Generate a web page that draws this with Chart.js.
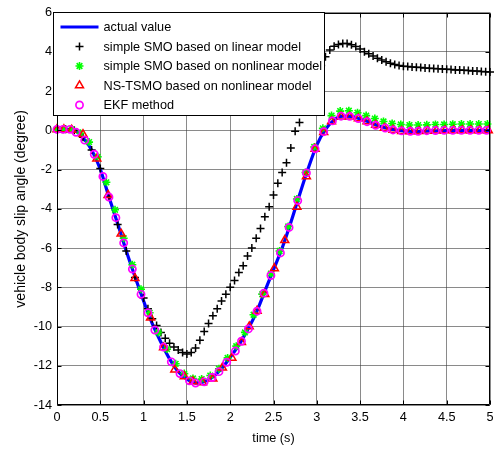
<!DOCTYPE html>
<html>
<head>
<meta charset="utf-8">
<script src="https://cdn.jsdelivr.net/npm/chart.js@4/dist/chart.umd.min.js"></script>
<style>
  html, body { margin: 0; padding: 0; background: #fff; }
  canvas { display: block; }
</style>
</head>
<body>
<canvas id="chart" width="499" height="457"></canvas>
<script>
// Axis ticks
const xTicks = [0, 0.5, 1, 1.5, 2, 2.5, 3, 3.5, 4, 4.5, 5];
const xTickLabels = ['0', '0.5', '1', '1.5', '2', '2.5', '3', '3.5', '4', '4.5', '5'];
const yTicks = [-14, -12, -10, -8, -6, -4, -2, 0, 2, 4, 6];
const yTickLabels = ['-14', '-12', '-10', '-8', '-6', '-4', '-2', '0', '2', '4', '6'];

const seriesNames = [
  'actual value',
  'simple SMO based on linear model',
  'simple SMO based on nonlinear model',
  'NS-TSMO based on nonlinear model',
  'EKF method'
];

// Actual slip angle (deg)
const actualT = [0, 0.1, 0.2, 0.3, 0.4, 0.5, 0.6, 0.7, 0.8, 0.9, 1.0, 1.1, 1.2, 1.3, 1.4, 1.5, 1.6, 1.7, 1.8, 1.9,
  2.0, 2.1, 2.2, 2.3, 2.4, 2.5, 2.6, 2.7, 2.8, 2.9, 3.0, 3.1, 3.2, 3.3, 3.4, 3.5, 3.6, 3.7, 3.8, 3.9,
  4.0, 4.1, 4.2, 4.3, 4.4, 4.5, 4.6, 4.7, 4.8, 4.9, 5.0];
const actualV = [0.05, 0.05, 0.0, -0.38, -1.0, -1.98, -3.4, -4.75, -6.15, -7.45, -8.7, -9.85, -10.8, -11.65, -12.3, -12.68, -12.88, -12.82, -12.57, -12.15,
  -11.57, -10.95, -10.18, -9.3, -8.2, -7.1, -6.0, -4.7, -3.3, -1.95, -0.75, 0.05, 0.53, 0.72, 0.71, 0.58, 0.44, 0.25, 0.12, 0.03,
  -0.03, -0.05, -0.05, -0.03, -0.02, -0.01, 0.0, 0.0, 0.0, 0.0, 0.0];

// Simple SMO, linear model
const smoLinT = [0, 0.1, 0.2, 0.3, 0.4, 0.5, 0.6, 0.7, 0.8, 0.9, 1.0,
  1.05, 1.1, 1.15, 1.2, 1.25, 1.3, 1.35, 1.4, 1.45, 1.5, 1.55, 1.6, 1.65, 1.7, 1.75, 1.8, 1.85, 1.9, 1.95,
  2.0, 2.05, 2.1, 2.15, 2.2, 2.25, 2.3, 2.35, 2.4, 2.45, 2.5, 2.55, 2.6, 2.65, 2.7, 2.75, 2.8, 2.85, 2.9, 2.95,
  3.0, 3.05, 3.1, 3.15, 3.2, 3.25, 3.3, 3.35, 3.4, 3.45, 3.5, 3.55, 3.6, 3.65, 3.7, 3.75, 3.8, 3.85, 3.9, 3.95,
  4.0, 4.05, 4.1, 4.15, 4.2, 4.25, 4.3, 4.35, 4.4, 4.45, 4.5, 4.55, 4.6, 4.65, 4.7, 4.75, 4.8, 4.85, 4.9, 4.95, 5.0];
const smoLinV = [0.05, 0.05, 0.0, -0.35, -1.0, -1.95, -3.4, -4.8, -6.15, -7.5, -8.55,
  -9.1, -9.6, -9.95, -10.3, -10.6, -10.85, -11.05, -11.2, -11.32, -11.4, -11.32, -11.1, -10.7, -10.25, -9.85, -9.45, -9.1, -8.7, -8.35,
  -8.0, -7.65, -7.25, -6.9, -6.4, -6.0, -5.5, -5.0, -4.4, -3.9, -3.3, -2.7, -2.15, -1.65, -0.9, -0.05, 0.4, 1.0, 1.6, 2.2,
  2.8, 3.3, 3.75, 4.1, 4.28, 4.37, 4.42, 4.42, 4.36, 4.27, 4.14, 4.0, 3.9, 3.79, 3.68, 3.58, 3.5, 3.42, 3.35, 3.3,
  3.27, 3.25, 3.23, 3.21, 3.2, 3.18, 3.17, 3.15, 3.14, 3.12, 3.11, 3.1, 3.08, 3.07, 3.06, 3.05, 3.03, 3.02, 3.0, 2.99, 2.97];

// Simple SMO, nonlinear model
const smoNonT = [0, 0.07, 0.17, 0.27, 0.37, 0.47, 0.57, 0.67, 0.77, 0.87, 0.97, 1.07, 1.17, 1.27, 1.37, 1.47, 1.57, 1.67, 1.77, 1.87,
  1.97, 2.07, 2.17, 2.27, 2.37, 2.47, 2.57, 2.67, 2.77, 2.87, 2.97, 3.07, 3.17, 3.27, 3.37, 3.47, 3.57, 3.67, 3.77, 3.87,
  3.97, 4.07, 4.17, 4.27, 4.37, 4.47, 4.57, 4.67, 4.77, 4.87, 4.97];
const smoNonV = [0.05, 0.05, 0.05, -0.15, -0.6, -1.35, -2.65, -4.05, -5.5, -6.85, -8.1, -9.3, -10.3, -11.15, -11.9, -12.4, -12.65, -12.68, -12.5, -12.15,
  -11.6, -11.0, -10.3, -9.4, -8.35, -7.3, -6.15, -4.9, -3.5, -2.15, -0.85, 0.1, 0.75, 0.98, 1.0, 0.9, 0.75, 0.6, 0.45, 0.35,
  0.3, 0.27, 0.27, 0.28, 0.3, 0.3, 0.31, 0.32, 0.32, 0.32, 0.32];

// NS-TSMO, nonlinear model
const tsmoT = [0, 0.08, 0.17, 0.3, 0.46, 0.59, 0.74, 0.9, 1.08, 1.23, 1.36, 1.47, 1.57, 1.68, 1.8, 1.91, 2.02, 2.13, 2.22, 2.31,
  2.4, 2.51, 2.63, 2.77, 2.88, 2.98, 3.08, 3.17, 3.28, 3.38, 3.48, 3.58, 3.68, 3.78, 3.88, 3.98, 4.08, 4.18, 4.28, 4.38,
  4.48, 4.58, 4.68, 4.78, 4.88, 4.98];
const tsmoV = [0.05, 0.05, 0.02, -0.2, -1.45, -3.3, -5.27, -7.54, -9.55, -11.07, -12.2, -12.54, -12.8, -12.85, -12.66, -12.1, -11.6, -10.8, -10.0, -9.2,
  -8.35, -7.04, -5.6, -3.9, -2.35, -0.95, -0.1, 0.45, 0.7, 0.7, 0.6, 0.45, 0.27, 0.12, 0.02, -0.04, -0.06, -0.05, -0.03, -0.02,
  0.0, 0.0, 0.0, 0.0, 0.0, 0.0];

// EKF estimate
const ekfT = [0, 0.07, 0.15, 0.22, 0.32, 0.43, 0.53, 0.60, 0.68, 0.77, 0.87, 0.97, 1.05, 1.13, 1.23, 1.32, 1.42, 1.53, 1.60, 1.70,
  1.79, 1.87, 1.96, 2.06, 2.13, 2.21, 2.31, 2.39, 2.47, 2.58, 2.68, 2.78, 2.88, 2.98, 3.08, 3.18, 3.28, 3.38, 3.48, 3.58,
  3.68, 3.79, 3.88, 3.98, 4.08, 4.17, 4.27, 4.37, 4.47, 4.57, 4.67, 4.77, 4.87, 4.96];
const ekfV = [0.05, 0.05, 0.05, -0.1, -0.5, -1.22, -2.35, -3.4, -4.45, -5.74, -7.07, -8.36, -9.3, -10.18, -11.05, -11.8, -12.4, -12.77, -12.88, -12.82,
  -12.6, -12.3, -11.82, -11.25, -10.75, -10.12, -9.22, -8.3, -7.4, -6.25, -4.95, -3.58, -2.17, -0.94, -0.07, 0.48, 0.72, 0.71, 0.6, 0.44,
  0.26, 0.12, 0.02, -0.03, -0.05, -0.05, -0.02, -0.01, 0.0, 0.0, 0.0, 0.0, 0.0, 0.0];

const pts = (ts, vs) => ts.map((t, i) => ({ x: t, y: vs[i] }));

const FONT = '"Liberation Sans", Arial, Helvetica, sans-serif';
const GRID = 'rgba(60,60,60,0.6)';

// Box round the axes with inward tick marks
const framePlugin = {
  id: 'frame',
  afterDatasetsDraw(chart) {
    const { ctx, chartArea: a, scales } = chart;
    ctx.save();
    ctx.strokeStyle = '#000';
    ctx.lineWidth = 1;
    ctx.beginPath();
    const L = Math.round(a.left) + 0.5, R = Math.round(a.right) - 0.5;
    const T = Math.round(a.top) + 0.5, B = Math.round(a.bottom) - 0.5;
    ctx.rect(L, T, R - L, B - T);
    const len = 4;
    xTicks.forEach(v => {
      const x = Math.round(scales.x.getPixelForValue(v)) + 0.5;
      ctx.moveTo(x, B); ctx.lineTo(x, B - len);
      ctx.moveTo(x, T); ctx.lineTo(x, T + len);
    });
    yTicks.forEach(v => {
      const y = Math.round(scales.y.getPixelForValue(v)) + 0.5;
      ctx.moveTo(L, y); ctx.lineTo(L + len, y);
      ctx.moveTo(R, y); ctx.lineTo(R - len, y);
    });
    ctx.stroke();
    ctx.restore();
  }
};

// Boxed legend in the upper-left corner of the axes
const legendPlugin = {
  id: 'boxLegend',
  afterDatasetsDraw(chart) {
    const { ctx, chartArea: a } = chart;
    const x0 = Math.round(a.left) - 3.5, y0 = Math.round(a.top) - 0.5;
    const w = 271, h = 103;
    ctx.save();
    ctx.fillStyle = '#fff';
    ctx.fillRect(x0, y0, w, h);
    ctx.strokeStyle = '#000';
    ctx.lineWidth = 1;
    ctx.strokeRect(x0, y0, w, h);
    const rowH = 19.5, firstY = y0 + 14.5;
    const mx = x0 + 26;
    chart.data.datasets.forEach((ds, i) => {
      const y = firstY + i * rowH;
      if (ds.showLine) {
        ctx.strokeStyle = ds.borderColor;
        ctx.lineWidth = ds.borderWidth;
        ctx.beginPath();
        ctx.moveTo(x0 + 7, y);
        ctx.lineTo(x0 + 45, y);
        ctx.stroke();
      } else {
        ctx.strokeStyle = ds.borderColor;
        ctx.fillStyle = 'rgba(0,0,0,0)';
        ctx.lineWidth = ds.pointBorderWidth;
        Chart.helpers.drawPoint(ctx, {
          pointStyle: ds.pointStyle,
          radius: ds.pointRadius,
          rotation: 0,
          borderWidth: ds.pointBorderWidth
        }, mx, y);
      }
      ctx.fillStyle = '#000';
      ctx.font = '12.7px ' + FONT;
      ctx.textBaseline = 'middle';
      ctx.textAlign = 'left';
      ctx.fillText(ds.label, x0 + 50, y + 0.5);
    });
    ctx.restore();
  }
};

const markerSet = (label, ts, vs, style, color, radius, bw, order) => ({
  label,
  data: pts(ts, vs),
  showLine: false,
  pointStyle: style,
  pointRadius: radius,
  pointBorderWidth: bw,
  borderColor: color,
  pointBorderColor: color,
  backgroundColor: 'rgba(0,0,0,0)',
  pointBackgroundColor: 'rgba(0,0,0,0)',
  clip: false,
  order
});

new Chart(document.getElementById('chart'), {
  type: 'scatter',
  data: {
    datasets: [
      {
        label: seriesNames[0],
        data: pts(actualT, actualV),
        showLine: true,
        borderColor: '#0000ff',
        borderWidth: 3.2,
        pointRadius: 0,
        cubicInterpolationMode: 'monotone',
        order: 5
      },
      markerSet(seriesNames[1], smoLinT, smoLinV, 'cross', '#000000', 4, 1.5, 4),
      markerSet(seriesNames[2], smoNonT, smoNonV, 'star', '#00ff00', 4, 1.6, 3),
      markerSet(seriesNames[3], tsmoT, tsmoV, 'triangle', '#ff0000', 4.6, 1.5, 2),
      markerSet(seriesNames[4], ekfT, ekfV, 'circle', '#ff00ff', 3.6, 1.7, 1)
    ]
  },
  options: {
    responsive: false,
    devicePixelRatio: 1,
    animation: false,
    events: [],
    layout: { padding: { left: 0, top: 8, right: 9, bottom: 0 } },
    plugins: { legend: { display: false }, tooltip: { enabled: false } },
    scales: {
      x: {
        type: 'linear',
        position: 'bottom',
        min: 0, max: 5,
        afterFit: s => { s.height = 52; },
        afterBuildTicks: s => { s.ticks = xTicks.map(v => ({ value: v })); },
        grid: { color: GRID, lineWidth: 1, drawTicks: false },
        border: { display: false },
        ticks: {
          autoSkip: false, maxRotation: 0, padding: 5,
          color: '#000', font: { family: FONT, size: 12.7 },
          callback: (v, i) => xTickLabels[i]
        },
        title: {
          display: true, text: 'time (s)', color: '#000',
          font: { family: FONT, size: 12.7 },
          padding: { top: 0, bottom: 11 }
        }
      },
      y: {
        type: 'linear',
        position: 'left',
        min: -14, max: 6,
        afterFit: s => { s.width = 57; },
        afterBuildTicks: s => { s.ticks = yTicks.map(v => ({ value: v })); },
        grid: { color: GRID, lineWidth: 1, drawTicks: false },
        border: { display: false },
        ticks: {
          autoSkip: false, padding: 5,
          color: '#000', font: { family: FONT, size: 12.7 },
          callback: (v, i) => yTickLabels[i]
        },
        title: {
          display: true, text: 'vehicle body slip angle (degree)', color: '#000',
          font: { family: FONT, size: 14 },
          padding: { top: 13, bottom: 0 }
        }
      }
    }
  },
  plugins: [framePlugin, legendPlugin]
});
</script>
</body>
</html>
